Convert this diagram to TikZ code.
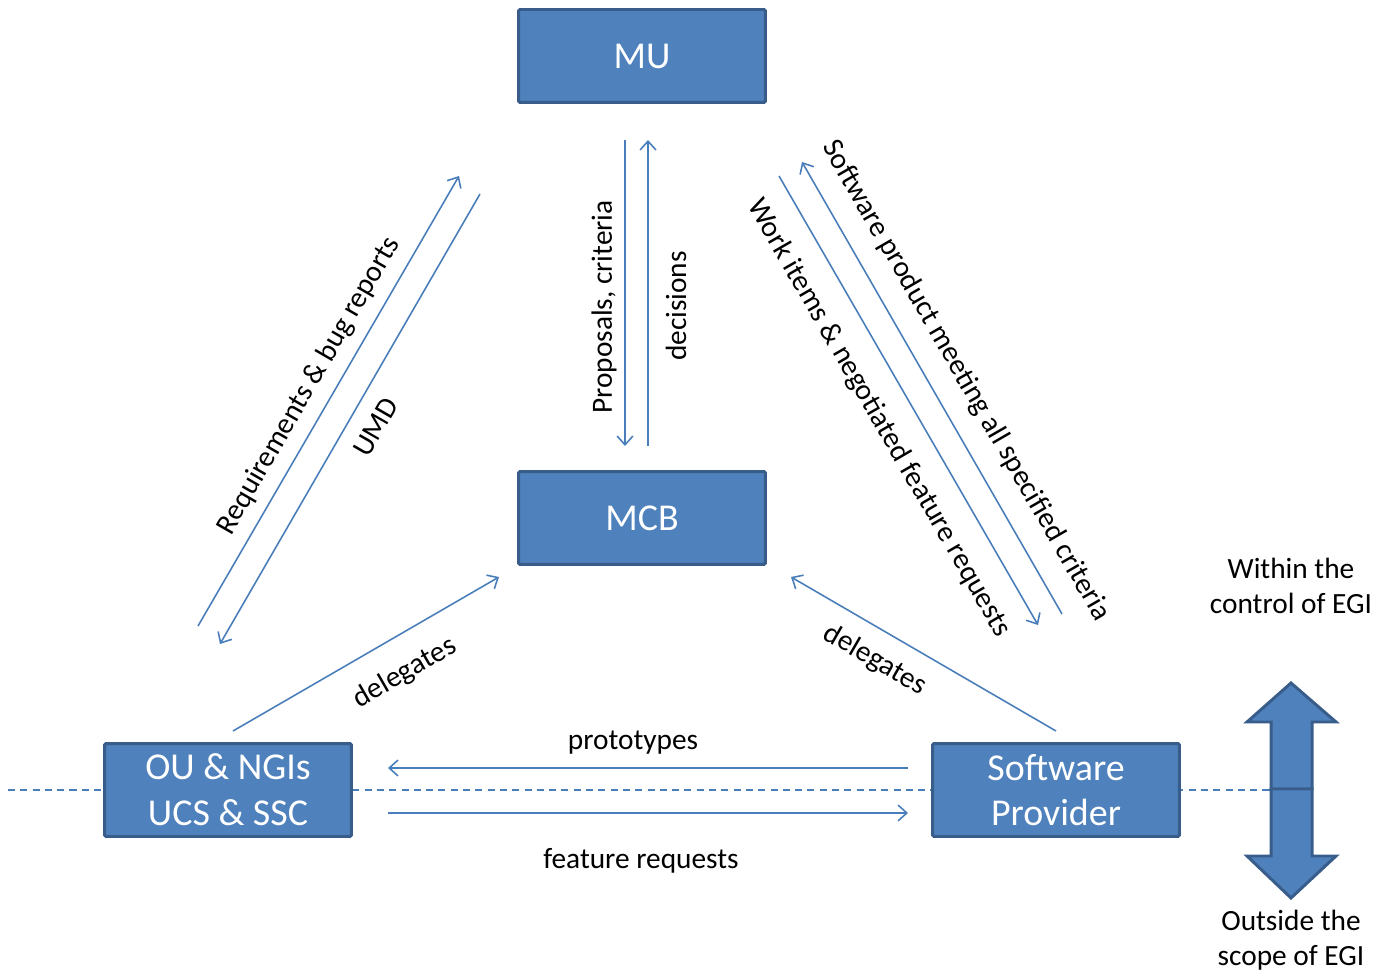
\documentclass[tikz,border=0pt]{standalone}
\usepackage{fontspec}
\setmainfont{Carlito}
\usetikzlibrary{arrows.meta}
\definecolor{boxfill}{HTML}{4F81BD}
\definecolor{boxedge}{HTML}{385D8A}
\definecolor{linec}{HTML}{4A7EBB}
\begin{document}
\begin{tikzpicture}[x=0.02cm,y=-0.02cm,
  box/.style={draw=boxedge,fill=boxfill,line width=1.7pt,minimum width=4.94cm,minimum height=1.86cm,
    font=\fontsize{21.6}{26}\selectfont,text=white,align=center,inner sep=0pt,rounded corners=0.8pt},
  lbl/.style={font=\fontsize{16.7}{20}\selectfont,inner sep=0pt,align=center},
  flow/.style={draw=linec,line width=0.9pt,-{Straight Barb[length=5pt,width=9pt]}},
  bigarrow/.style={draw=boxedge,fill=boxfill,line width=1.7pt,line join=miter},
  divider/.style={draw=linec,line width=0.8pt,dash pattern=on 4pt off 3pt}]
\useasboundingbox (0,0) rectangle (1379,976);

% dashed boundary
\coordinate (dl) at (8,790);
\coordinate (dr) at (1271,790);
\draw[divider] (dl) -- (dr);

% boxes
\node[box] (mu)  at (642,56)  {MU};
\node[box] (mcb) at (642,518) {MCB};
\node[box] (ou)  at (228,790) {OU \& NGIs\\UCS \& SSC};
\node[box] (sp)  at (1056,790) {Software\\Provider};

% arrow end points
\coordinate (a1s) at (198,626);  \coordinate (a1e) at (459,176);
\coordinate (a2s) at (480,194);  \coordinate (a2e) at (220,644);
\coordinate (a3s) at (625,140);  \coordinate (a3e) at (625,446);
\coordinate (a4s) at (648,446);  \coordinate (a4e) at (648,140);
\coordinate (a5s) at (1062,614); \coordinate (a5e) at (802,162);
\coordinate (a6s) at (779,176);  \coordinate (a6e) at (1038,625);
\coordinate (a7s) at (233,731);  \coordinate (a7e) at (499,577);
\coordinate (a8s) at (1056,731); \coordinate (a8e) at (791,577);
\coordinate (a9s) at (908,768);  \coordinate (a9e) at (388,768);
\coordinate (a10s) at (388,813); \coordinate (a10e) at (908,813);

\draw[flow] (a1s) -- (a1e);
\draw[flow] (a2s) -- (a2e);
\draw[flow] (a3s) -- (a3e);
\draw[flow] (a4s) -- (a4e);
\draw[flow] (a5s) -- (a5e);
\draw[flow] (a6s) -- (a6e);
\draw[flow] (a7s) -- (a7e);
\draw[flow] (a8s) -- (a8e);
\draw[flow] (a9s) -- (a9e);
\draw[flow] (a10s) -- (a10e);

% labels
\node[lbl,rotate=60] (l1) at (309,386) {Requirements \& bug reports};
\node[lbl,rotate=60] (l2) at (376,427) {UMD};
\node[lbl,rotate=90] (l3) at (604,307) {Proposals, criteria};
\node[lbl,rotate=90] (l4) at (676,306) {decisions};
\node[lbl,rotate=-60] (l5) at (966,381) {Software product meeting all specified criteria};
\node[lbl,rotate=-60] (l6) at (879,418) {Work items \& negotiated feature requests};
\node[lbl,rotate=30] (l7) at (405,673) {delegates};
\node[lbl,rotate=-30] (l8) at (875,660) {delegates};
\node[lbl] (l9) at (633,743) {prototypes};
\node[lbl] (l10) at (641,861) {feature requests};
\node[lbl] (l11) at (1291,586) {Within the\\control of EGI};
\node[lbl] (l12) at (1291,940) {Outside the\\scope of EGI};

% double block arrow
\draw[bigarrow] (1291,683) -- (1336,722) -- (1312,722) -- (1312,789) -- (1271,789) -- (1271,722) -- (1247,722) -- cycle;
\draw[bigarrow] (1271,789) -- (1312,789) -- (1312,856) -- (1336,856) -- (1291,898) -- (1247,856) -- (1271,856) -- cycle;
\end{tikzpicture}
\end{document}
